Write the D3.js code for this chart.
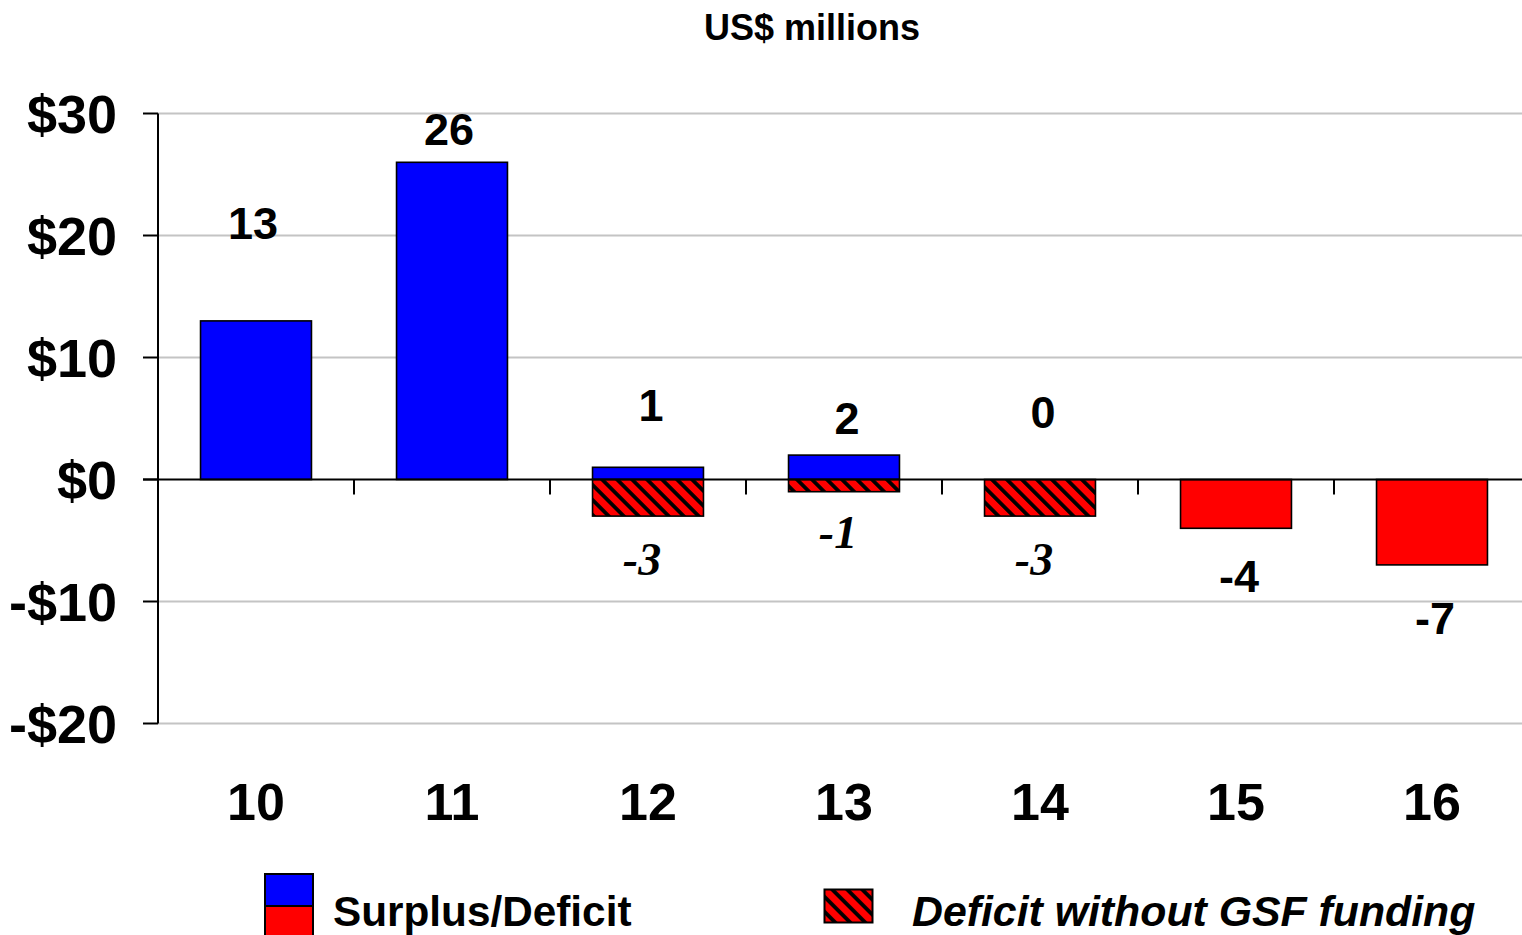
<!DOCTYPE html>
<html><head><meta charset="utf-8">
<script src="https://cdn.jsdelivr.net/npm/d3@7"></script>
<style>
html,body{margin:0;padding:0;background:#fff;overflow:hidden}
svg{display:block}
text{font-family:"Liberation Sans",Arial,sans-serif;font-weight:bold;fill:#000}
</style></head>
<body>
<svg id="chart" width="1522" height="935"></svg>
<script>
// ---- data ----
const categories = ["10","11","12","13","14","15","16"];
const surplusDeficit = [13, 26, 1, 2, 0, -4, -7];
const deficitWithoutGSF = [null, null, -3, -1, -3, null, null];
const surplusLabels = ["13","26","1","2","0","-4","-7"];
const deficitLabels = [null, null, "-3", "-1", "-3", null, null];
// label baselines in data units (labels were placed by hand in the original)
const surplusLabelAt = [19.7, 27.4, 4.8, 3.7, 4.2, -9.2, -12.7];
const deficitLabelAt = [null, null, -7.8, -5.6, -7.8, null, null];
const yTicks = [30, 20, 10, 0, -10, -20];
const yTickLabels = ["$30","$20","$10","$0","-$10","-$20"];
const title = "US$ millions";
const legendLabels = ["Surplus/Deficit", "Deficit without GSF funding"];

const svg = d3.select("#chart");
const W = 1522;
const x = d3.scaleBand().domain(categories).range([158, 1530]).padding(0);
const y = d3.scaleLinear().domain([-20, 30]).range([723.5, 113.5]);
const barW = x.bandwidth() * 0.566;

// hatch pattern
const defs = svg.append("defs");
const pat = defs.append("pattern").attr("id","hatch")
  .attr("patternUnits","userSpaceOnUse").attr("width",10.6).attr("height",10.6)
  .attr("patternTransform","rotate(-45)");
pat.append("rect").attr("width",10.6).attr("height",10.6).attr("fill","#ff0000");
pat.append("rect").attr("width",3.8).attr("height",10.6).attr("fill","#000");

// title
svg.append("text").attr("x", 812).attr("y", 40).attr("text-anchor","middle")
  .style("font-size","36px").text(title);

// gridlines
svg.append("g").selectAll("line").data(yTicks.filter(d => d !== 0)).join("line")
  .attr("x1", 158).attr("x2", W).attr("y1", d => y(d)).attr("y2", d => y(d))
  .attr("stroke","#c4c4c4").attr("stroke-width",2);

// bars
const bars = svg.append("g");
categories.forEach((c, i) => {
  const v = surplusDeficit[i];
  const bx = x(c) + (x.bandwidth() - barW) / 2;
  if (v !== 0) {
    bars.append("rect").attr("x", bx).attr("width", barW)
      .attr("y", y(Math.max(v, 0))).attr("height", Math.abs(y(v) - y(0)))
      .attr("fill", v > 0 ? "#0000ff" : "#ff0000")
      .attr("stroke","#000").attr("stroke-width",1.6);
  }
  const d = deficitWithoutGSF[i];
  if (d !== null) {
    bars.append("rect").attr("x", bx).attr("width", barW)
      .attr("y", y(0)).attr("height", y(d) - y(0))
      .attr("fill", "url(#hatch)")
      .attr("stroke","#000").attr("stroke-width",1.6);
  }
});

// axes lines
svg.append("line").attr("x1",158).attr("x2",158).attr("y1",y(30)).attr("y2",y(-20))
  .attr("stroke","#000").attr("stroke-width",2);
svg.append("g").selectAll("line").data(yTicks).join("line")
  .attr("x1",143).attr("x2",158).attr("y1", d => y(d)).attr("y2", d => y(d))
  .attr("stroke","#000").attr("stroke-width",2);
svg.append("line").attr("x1",143).attr("x2",W).attr("y1",y(0)).attr("y2",y(0))
  .attr("stroke","#000").attr("stroke-width",2);
svg.append("g").selectAll("line").data(categories.slice(1)).join("line")
  .attr("x1", d => x(d)).attr("x2", d => x(d)).attr("y1", y(0)).attr("y2", y(0) + 15)
  .attr("stroke","#000").attr("stroke-width",2);

// y tick labels
svg.append("g").selectAll("text").data(yTicks).join("text")
  .attr("x", 117).attr("y", d => y(d) + 19).attr("text-anchor","end")
  .style("font-size","54px").text((d, i) => yTickLabels[i]);

// x tick labels
svg.append("g").selectAll("text").data(categories).join("text")
  .attr("x", d => x(d) + x.bandwidth() / 2).attr("y", 820).attr("text-anchor","middle")
  .style("font-size","52px").text(d => d);

// data labels
svg.append("g").selectAll("text").data(categories).join("text")
  .attr("x", (d, i) => x(d) + x.bandwidth() / 2 + (i < 2 ? -3 : 3))
  .attr("y", (d, i) => y(surplusLabelAt[i])).attr("text-anchor","middle")
  .style("font-size","45px").text((d, i) => surplusLabels[i]);
svg.append("g").selectAll("text").data(categories.filter((c, i) => deficitLabels[i] !== null)).join("text")
  .attr("x", d => x(d) + x.bandwidth() / 2 - 6)
  .attr("y", d => y(deficitLabelAt[categories.indexOf(d)])).attr("text-anchor","middle")
  .style("font-family","'Liberation Serif','Times New Roman',serif")
  .style("font-style","italic").style("font-size","46px")
  .text(d => deficitLabels[categories.indexOf(d)]);

// legend
const lg = svg.append("g");
lg.append("rect").attr("x",265).attr("y",874).attr("width",48).attr("height",32)
  .attr("fill","#0000ff").attr("stroke","#000").attr("stroke-width",2);
lg.append("rect").attr("x",265).attr("y",906).attr("width",48).attr("height",32)
  .attr("fill","#ff0000").attr("stroke","#000").attr("stroke-width",2);
lg.append("text").attr("x",333).attr("y",926).style("font-size","42.3px").text(legendLabels[0]);
lg.append("rect").attr("x",824.5).attr("y",889.5).attr("width",48).attr("height",33)
  .attr("fill","url(#hatch)").attr("stroke","#000").attr("stroke-width",2);
lg.append("text").attr("x",912).attr("y",926).style("font-size","42.8px")
  .style("font-style","italic").text(legendLabels[1]);
</script>
</body></html>
